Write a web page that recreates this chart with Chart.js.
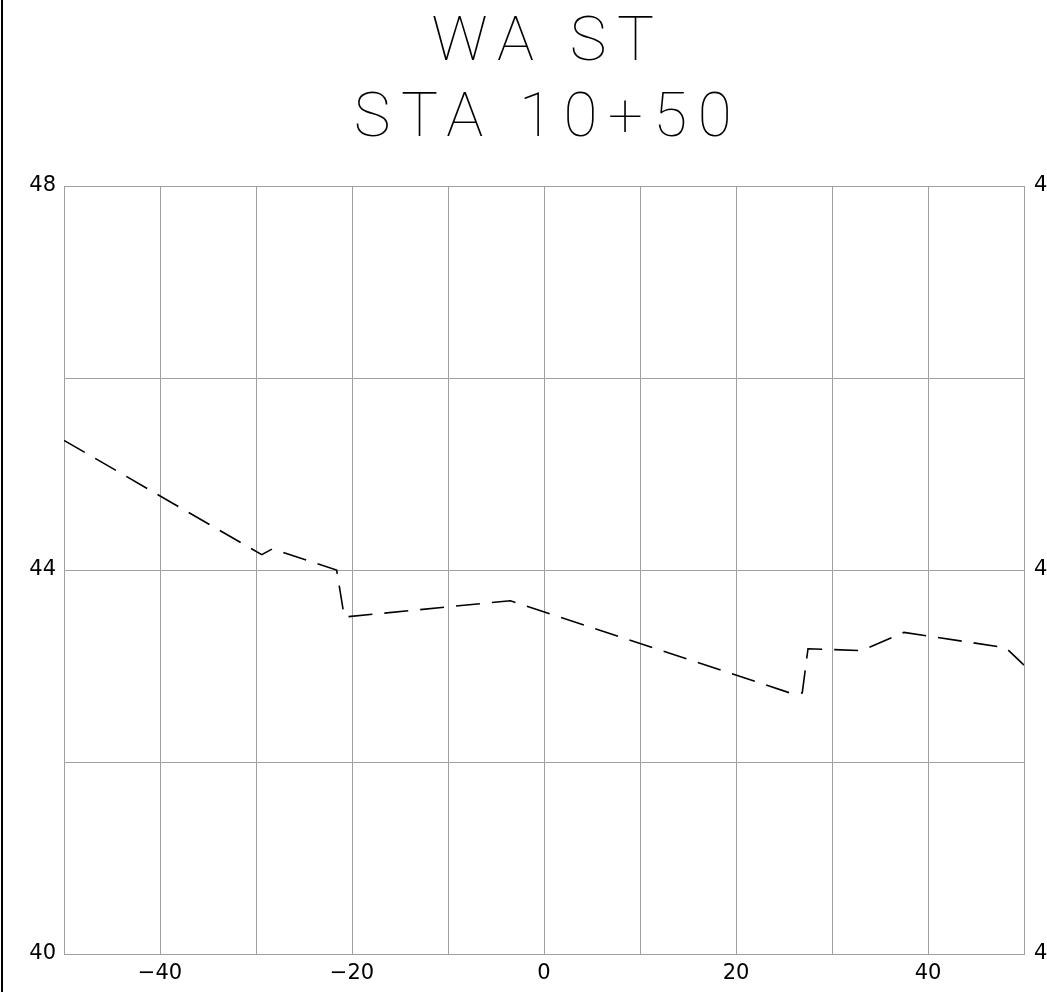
<!DOCTYPE html>
<html lang="en">
<head>
    <meta charset="UTF-8">
    <title>WA ST STA 10+50</title>
    <script src="https://cdn.jsdelivr.net/npm/chart.js"></script>
    <style>
        html, body { margin: 0; padding: 0; overflow: hidden; background: #fff; }
    </style>
</head>
<body>
    <canvas id="profile" width="1088" height="992"></canvas>
    <script>
        // Section profile (offset in ft, elevation in ft)
        const titleLines = ['WA ST', 'STA 10+50'];
        const offsets = [-50, -29.4, -28.3, -21.6, -20.8, -3.5, 25.6, 26.9, 27.5, 33.1, 37.5, 48.1, 50];
        const elevations = [45.35, 44.16, 44.22, 44.00, 43.51, 43.68, 42.72, 42.72, 43.18, 43.16, 43.35, 43.19, 43.01];
        const elevLabels = [40, 44, 48];
        const offsetLabels = [-40, -20, 0, 20, 40];

        const tickFont = { family: 'DejaVu Sans', size: 21 };
        const gridColor = '#a0a0a0';

        function elevTick(value) {
            return elevLabels.includes(value) ? String(value) : '';
        }
        function offsetTick(value) {
            if (!offsetLabels.includes(value)) return '';
            return value < 0 ? '\u2212' + Math.abs(value) : String(value);
        }

        // thin black rule down the left edge of the sheet,
        // plus wider letter spacing for the title (CAD lettering look)
        const sheetStyle = {
            id: 'sheetStyle',
            beforeDraw(chart) {
                const tb = chart.titleBlock;
                if (tb && !tb._spaced) {
                    const orig = tb.draw.bind(tb);
                    tb.draw = function () {
                        const ctx = chart.ctx;
                        ctx.save();
                        ctx.letterSpacing = '10.5px';
                        ctx.translate(4, 0);
                        orig();
                        ctx.restore();
                    };
                    tb._spaced = true;
                }
            },
            afterDraw(chart) {
                const ctx = chart.ctx;
                ctx.save();
                ctx.fillStyle = '#000';
                ctx.fillRect(1, 0, 2, chart.height);
                ctx.restore();
            }
        };

        new Chart(document.getElementById('profile').getContext('2d'), {
            type: 'scatter',
            data: {
                datasets: [{
                    data: offsets.map((x, i) => ({ x: x, y: elevations[i] })),
                    showLine: true,
                    borderColor: '#000',
                    borderWidth: 1.6,
                    borderDash: [24, 12],
                    pointRadius: 0,
                    fill: false,
                    tension: 0
                }]
            },
            options: {
                responsive: false,
                animation: false,
                devicePixelRatio: 1,
                layout: { padding: 0 },
                plugins: {
                    legend: { display: false },
                    tooltip: { enabled: false },
                    title: {
                        display: true,
                        text: titleLines,
                        color: '#000',
                        font: { family: 'Roboto', size: 62, weight: '100', lineHeight: 1.226 },
                        padding: { top: 6, bottom: 28 }
                    }
                },
                scales: {
                    x: {
                        type: 'linear',
                        min: -50,
                        max: 50,
                        ticks: { stepSize: 10, color: '#000', font: tickFont, padding: 7, callback: offsetTick, maxRotation: 0 },
                        grid: { color: gridColor, lineWidth: 1, drawTicks: false },
                        border: { color: gridColor },
                        afterFit(scale) { scale.height = 38; }
                    },
                    y: {
                        position: 'left',
                        min: 40,
                        max: 48,
                        ticks: { stepSize: 2, color: '#000', font: tickFont, padding: 8, callback: elevTick },
                        grid: { color: gridColor, lineWidth: 1, drawTicks: false },
                        border: { color: gridColor },
                        afterFit(scale) { scale.width = 64; }
                    },
                    y2: {
                        position: 'right',
                        min: 40,
                        max: 48,
                        ticks: { stepSize: 2, color: '#000', font: tickFont, padding: 10, callback: elevTick },
                        grid: { display: false, drawTicks: false },
                        border: { color: gridColor },
                        afterFit(scale) { scale.width = 64; }
                    }
                }
            },
            plugins: [sheetStyle]
        });
    </script>
</body>
</html>
